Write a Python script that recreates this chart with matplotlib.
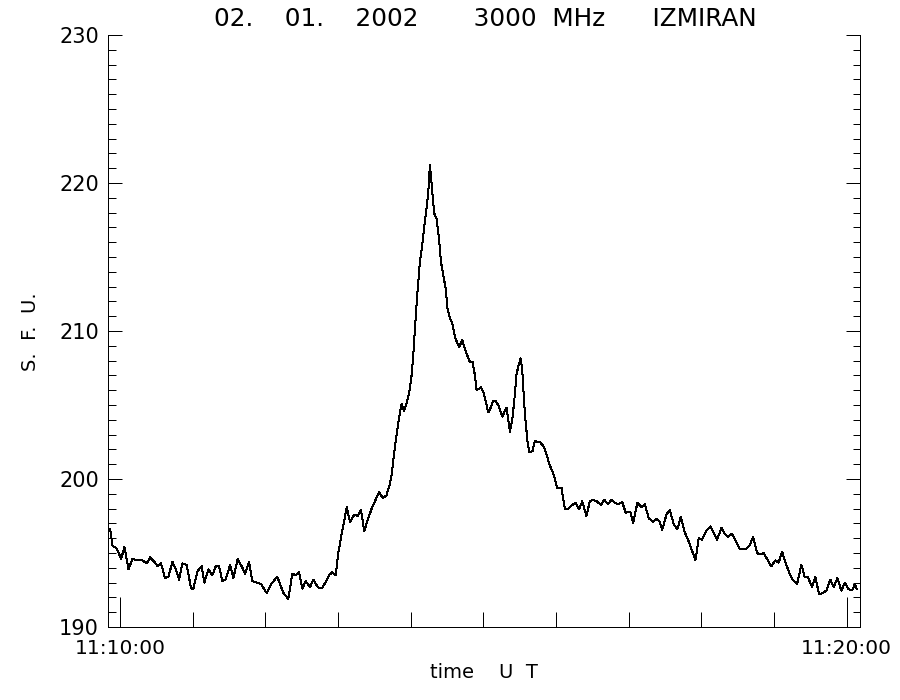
import matplotlib
matplotlib.use("Agg")
import matplotlib.pyplot as plt
from matplotlib.ticker import MultipleLocator, FixedLocator, FuncFormatter

# time in seconds from 11:10:00 UT, flux in s.f.u.
t_sec = [-8.25, -6.3, -2.75, 0.83, 3.6, 6.9, 10.2, 15.1, 18.4, 22.0,
         24.8, 28.3, 31.1, 33.8, 37.1, 39.9, 43.2, 45.9, 48.7, 51.4,
         55.0, 58.6, 60.5, 64.1, 67.4, 69.6, 72.9, 76.2, 79.0, 81.7,
         84.5, 87.2, 90.8, 93.5, 97.1, 100.4, 103.2, 106.5, 109.2, 112.8,
         116.4, 121.0, 125.2, 129.8, 134.8, 138.9, 142.2, 145.0, 147.7, 150.5,
         153.2, 156.8, 159.6, 163.1, 166.4, 169.2, 172.5, 175.2, 178.0, 180.2,
         182.9, 185.1, 187.1, 189.8, 193.4, 196.1, 198.9, 201.6, 204.4, 207.7,
         210.5, 213.8, 217.0, 220.0, 222.5, 224.2, 226.1, 228.3, 230.3, 232.5,
         234.4, 236.6, 238.8, 240.7, 242.1, 243.5, 244.8, 246.2, 247.6, 249.5,
         251.2, 253.1, 254.5, 255.8, 256.7, 257.8, 259.4, 261.3, 263.3, 264.9,
         266.8, 268.8, 270.4, 272.3, 274.3, 276.5, 278.4, 280.0, 282.5, 284.7,
         286.9, 288.9, 291.1, 293.0, 294.4, 296.3, 297.9, 299.9, 302.1, 304.0,
         305.9, 308.1, 310.0, 312.2, 314.2, 315.8, 317.7, 319.1, 320.5, 321.9,
         323.8, 325.4, 327.4, 329.3, 330.7, 332.0, 333.7, 334.8, 336.5, 337.8,
         340.6, 342.5, 344.4, 346.6, 348.8, 350.8, 352.7, 354.9, 357.1, 359.0,
         360.9, 364.5, 367.3, 370.0, 372.8, 376.1, 379.1, 381.6, 385.1, 387.9,
         390.6, 393.4, 397.0, 399.7, 403.0, 405.8, 408.5, 411.3, 414.6, 417.6,
         419.5, 421.2, 423.7, 427.2, 430.5, 433.3, 436.6, 440.2, 442.9, 445.7,
         447.6, 451.2, 453.9, 457.2, 460.2, 463.0, 466.3, 469.0, 471.8, 473.5,
         475.1, 477.8, 480.6, 482.8, 484.2, 487.7, 490.5, 493.0, 496.6, 499.3,
         502.1, 505.4, 508.4, 511.7, 514.4, 517.2, 519.9, 522.7, 526.0, 528.2,
         531.5, 534.2, 537.8, 541.1, 543.9, 546.6, 549.7, 552.4, 555.2, 559.0,
         562.6, 565.3, 568.1, 571.4, 574.1, 577.2, 579.9, 583.2, 586.5, 589.3,
         592.3, 595.6, 598.4, 601.7, 604.7, 606.6, 608.5]

flux = [196.6, 195.5, 195.3, 194.6, 195.4, 193.9, 194.6, 194.5, 194.5, 194.3,
        194.7, 194.4, 194.1, 194.3, 193.3, 193.4, 194.4, 193.9, 193.2, 194.3,
        194.2, 192.6, 192.6, 193.8, 194.1, 193.0, 193.9, 193.5, 194.1, 194.1,
        193.1, 193.2, 194.2, 193.3, 194.6, 194.1, 193.6, 194.4, 193.1, 193.0,
        192.9, 192.3, 192.95, 193.4, 192.3, 191.9, 193.6, 193.5, 193.7, 192.6,
        193.1, 192.7, 193.2, 192.7, 192.6, 192.95, 193.5, 193.7, 193.5, 195.0,
        196.3, 197.2, 198.1, 197.1, 197.6, 197.5, 197.9, 196.5, 197.2, 198.0,
        198.5, 199.1, 198.7, 198.9, 199.6, 200.3, 201.6, 203.0, 204.1, 205.1,
        204.6, 205.1, 205.9, 207.0, 208.4, 210.2, 211.8, 213.3, 214.7, 215.8,
        217.1, 218.3, 219.4, 221.2, 220.5, 219.4, 217.95, 217.6, 216.3, 214.7,
        213.8, 212.9, 211.5, 210.9, 210.5, 209.6, 209.2, 208.9, 209.4, 208.8,
        208.3, 207.9, 207.9, 207.0, 206.0, 206.1, 206.2, 205.9, 205.2, 204.5,
        204.8, 205.3, 205.3, 205.0, 204.55, 204.2, 204.6, 204.8, 204.0, 203.2,
        204.0, 205.2, 207.1, 207.75, 208.15, 207.5, 205.1, 203.9, 202.5, 201.8,
        201.9, 202.6, 202.5, 202.5, 202.3, 202.0, 201.5, 200.9, 200.5, 200.0,
        199.4, 199.4, 197.95, 198.0, 198.2, 198.4, 197.95, 198.5, 197.5, 198.5,
        198.6, 198.5, 198.25, 198.6, 198.3, 198.6, 198.4, 198.3, 198.45, 197.7,
        197.8, 197.8, 197.05, 198.4, 198.1, 198.3, 197.35, 197.1, 197.3, 197.1,
        196.55, 197.6, 197.9, 196.95, 196.6, 197.45, 196.4, 195.9, 195.25, 194.9,
        194.5, 196.0, 195.9, 196.3, 196.5, 196.8, 196.3, 195.9, 196.7, 196.3,
        196.1, 196.3, 195.8, 195.25, 195.3, 195.3, 195.5, 196.1, 195.0, 194.9,
        195.0, 194.6, 194.1, 194.5, 194.35, 195.1, 194.3, 193.7, 193.2, 192.9,
        194.2, 193.4, 193.35, 192.7, 193.4, 192.2, 192.3, 192.45, 193.2, 192.7,
        193.3, 192.45, 193.0, 192.55, 192.5, 192.9, 192.55]

x_range = [-10, 611]
y_range = [190, 230]
x_major = [0, 600]          # 11:10:00 and 11:20:00
x_minor = [60, 120, 180, 240, 300, 360, 420, 480, 540]

title = "02.    01.    2002       3000  MHz      IZMIRAN"
x_title = "time    U  T"
y_title = "S.  F.  U."


def hms(sec, pos=None):
    total = 11 * 3600 + 10 * 60 + int(round(sec))
    return "%02d:%02d:%02d" % (total // 3600, (total % 3600) // 60, total % 60)


plt.rcParams['font.family'] = ['DejaVu Sans']

fig = plt.figure(figsize=(9, 7), dpi=100)
ax = fig.add_axes([108 / 900, 1 - 627 / 700, 752 / 900, 592 / 700])

ax.plot(t_sec, flux, color='black', linewidth=0.72, antialiased=False)

ax.set_xlim(x_range)
ax.set_ylim(y_range)

# IDL style frame: no top line
ax.spines['top'].set_visible(False)
for s in ['left', 'right', 'bottom']:
    ax.spines[s].set_linewidth(0.72)
    ax.spines[s].set_antialiased(False)

ax.xaxis.set_major_locator(FixedLocator(x_major))
ax.xaxis.set_minor_locator(FixedLocator(x_minor))
ax.xaxis.set_major_formatter(FuncFormatter(hms))
ax.yaxis.set_major_locator(MultipleLocator(10))
ax.yaxis.set_minor_locator(MultipleLocator(1))

ax.tick_params(axis='x', which='major', direction='in', length=21.5, width=0.72,
               top=False, labelsize=14.5, pad=9)
ax.tick_params(axis='x', which='minor', direction='in', length=10.8, width=0.72, top=False)
ax.tick_params(axis='y', which='major', direction='in', length=10.3, width=0.72,
               left=True, right=True, labelsize=15, pad=6.5)
ax.tick_params(axis='y', which='minor', direction='in', length=5.4, width=0.72,
               left=True, right=True)

ax.set_xlabel(x_title, fontsize=14)
ax.xaxis.set_label_coords(0.5, -0.061)

fig.text(31 / 900, 1 - 332 / 700, y_title, rotation=90, ha='center', va='center',
         fontsize=14)
fig.text(485 / 900, 1 - 26 / 700, title, ha='center', va='baseline', fontsize=17.8)

fig.savefig("out.png", dpi=100)
